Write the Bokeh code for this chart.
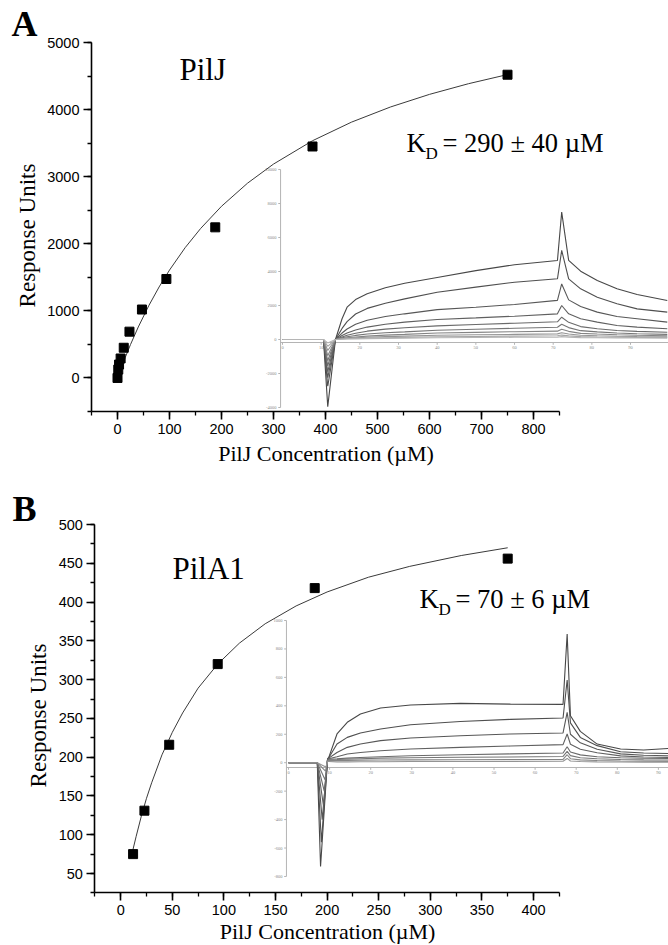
import math
from bokeh.plotting import figure
from bokeh.models import Range1d, SingleIntervalTicker, Label, ColumnDataSource
from bokeh.layouts import column
from bokeh.embed import file_html
from bokeh.resources import INLINE

# ---------------- Panel A data (PilJ) ----------------
conc_A = [0, 1.5, 3, 6, 12, 23, 47, 94, 188, 375, 750]
resp_A = [0, 125, 200, 290, 450, 690, 1020, 1475, 2245, 3450, 4520]
fit_conc_A = [3, 8, 15, 25, 40, 60, 80, 100, 130, 160, 200, 250, 300, 375, 450, 525, 600, 675, 750]
fit_resp_A = [64, 168, 308, 498, 760, 1075, 1356, 1608, 1941, 2229, 2559, 2903, 3188, 3536, 3813, 4039, 4227, 4386, 4522]
x_title = "PilJ Concentration (\u00b5M)"
y_title = "Response Units"

# inset A sensorgrams (time s, response RU)
time_A = [0, 10.6, 11.7, 13.7, 15.4, 16.7, 18.9, 21.9, 26.6, 31.6, 40, 50, 60, 71.1, 72.2, 74.0, 77.1, 81.4, 86.5, 91.7, 99.5]
sens_A = [
    [0, 0, -3950, 0, 1220, 1900, 2350, 2690, 3040, 3310, 3650, 4050, 4400, 4650, 7490, 4650, 4020, 3470, 2980, 2650, 2290],
    [0, 0, -2750, 0, 650, 1050, 1500, 1830, 2130, 2390, 2780, 3080, 3370, 3570, 5240, 3570, 2980, 2490, 2100, 1800, 1610],
    [0, 0, -2250, 0, 380, 620, 900, 1130, 1350, 1510, 1760, 1900, 2060, 2300, 3270, 2330, 1940, 1610, 1350, 1220, 1020],
    [0, 0, -1900, 0, 230, 380, 560, 730, 900, 1020, 1180, 1270, 1370, 1510, 2000, 1510, 1220, 1020, 820, 730, 630],
    [0, 0, -1550, 0, 150, 250, 370, 490, 610, 690, 800, 880, 960, 1040, 1310, 1010, 760, 630, 530, 480, 430],
    [0, 0, -1250, 0, 100, 160, 240, 320, 400, 450, 540, 600, 660, 720, 900, 700, 520, 450, 380, 340, 300],
    [0, 0, -950, 0, 60, 100, 150, 200, 260, 300, 380, 420, 460, 490, 600, 480, 360, 320, 280, 250, 220],
    [0, 0, -650, 0, 40, 65, 95, 130, 170, 200, 250, 280, 300, 330, 400, 320, 250, 220, 190, 175, 160],
    [0, 0, -400, 0, 25, 40, 60, 80, 105, 125, 160, 180, 200, 220, 260, 215, 170, 150, 135, 125, 120],
    [0, 0, -200, 0, 15, 25, 35, 50, 65, 80, 100, 115, 130, 140, 170, 140, 110, 100, 90, 85, 80],
]
inset_xticks_A = [0, 10, 20, 30, 40, 50, 60, 70, 80, 90]
inset_yticks_A = [-4000, -2000, 0, 2000, 4000, 6000, 8000, 10000]

# ---------------- Panel B data (PilA1) ----------------
conc_B = [12, 23, 47, 94, 188, 375]
resp_B = [75, 131, 216, 320, 418, 456]
fit_conc_B = [11, 15, 20, 25, 30, 40, 50, 60, 75, 94, 115, 140, 170, 200, 240, 280, 330, 375]
fit_resp_B = [76, 98, 124, 147, 167, 203, 232, 257, 289, 320, 347, 372, 395, 413, 432, 446, 460, 470]

time_B_pre = [0, 7.0]
dip_time_B = [7.8, 8.0, 8.2, 8.5, 8.7, 8.9, 9.0, 9.1]
time_B_post = [9.5, 9.8, 11.8, 14.3, 17.5, 22.4, 29.7, 41.8, 54.0, 66.8, 67.8, 68.6, 71.0, 75.1, 80.8, 86.4, 92.7]
sens_B = [
    [0, 0, -730, 25, 37, 202, 284, 342, 385, 406, 417, 412, 410, 905, 330, 220, 131, 96, 89, 101],
    [0, 0, -560, 25, 35, 131, 178, 209, 237, 267, 290, 305, 314, 582, 280, 178, 120, 77, 68, 65],
    [0, 0, -400, 22, 32, 72, 108, 131, 155, 174, 190, 202, 209, 354, 200, 140, 95, 62, 52, 49],
    [0, 0, -300, 20, 28, 42, 61, 72, 84, 96, 108, 117, 127, 202, 130, 95, 70, 48, 40, 37],
    [0, 0, -200, 18, 25, 28, 32, 37, 42, 49, 56, 62, 68, 112, 75, 55, 42, 35, 31, 30],
    [0, 0, -120, 15, 20, 22, 25, 28, 32, 35, 38, 40, 44, 79, 50, 35, 28, 23, 20, 19],
    [0, 0, -60, 12, 15, 15, 16, 18, 19, 20, 21, 22, 23, 56, 28, 20, 15, 12, 10, 9],
    [0, 0, -30, 8, 8, 6, 6, 7, 7, 8, 8, 9, 10, 30, 12, 8, 6, 5, 4, 4],
]
inset_xticks_B = [0, 10, 20, 30, 40, 50, 60, 70, 80, 90]
inset_yticks_B = [-800, -600, -400, -200, 0, 200, 400, 600, 800, 1000]

SERIF = "Liberation Serif"
SANS = "Liberation Sans"
GRAYS = ["#474747", "#4f4f4f", "#575757", "#606060", "#6a6a6a", "#757575", "#848484", "#949494", "#a5a5a5", "#b5b5b5"]
W = 668
PAGE_LEFT, PAGE_RIGHT = 0, W
BASE_SHIFT = 0.385   # Label anchor vs. alphabetic baseline, in em


class Mapper:
    """page-pixel -> data helpers for one panel."""
    def __init__(self, x0v, x0px, xs, y0v, y0px, ys, t0px, ts, v0px, vs, top, bottom):
        self.x0v, self.x0px, self.xs = x0v, x0px, xs
        self.y0v, self.y0px, self.ys = y0v, y0px, ys
        self.t0px, self.ts, self.v0px, self.vs = t0px, ts, v0px, vs
        self.top, self.bottom = top, bottom

    def x(self, px):
        return self.x0v + (px - self.x0px) / self.xs

    def y(self, py):
        return self.y0v - (py - self.y0px) / self.ys

    def t(self, px):
        return (px - self.t0px) / self.ts

    def v(self, py):
        return (self.v0px - py) / self.vs


def make_panel(m, xint, yint, xbounds, ybounds):
    p = figure(width=W, height=m.bottom - m.top,
               x_range=Range1d(m.x(PAGE_LEFT), m.x(PAGE_RIGHT)),
               y_range=Range1d(m.y(m.bottom), m.y(m.top)),
               output_backend="svg", toolbar_location=None,
               min_border_left=0, min_border_right=0, min_border_top=0, min_border_bottom=0)
    p.extra_x_ranges = {"ins": Range1d(m.t(PAGE_LEFT), m.t(PAGE_RIGHT))}
    p.extra_y_ranges = {"ins": Range1d(m.v(m.bottom), m.v(m.top))}
    xa, ya = p.xaxis[0], p.yaxis[0]
    for ax in (xa, ya):
        ax.axis_line_width = 1.6
        ax.axis_line_color = "black"
        ax.major_tick_line_width = 1.6
        ax.minor_tick_line_width = 1.3
        ax.major_tick_out = 8
        ax.major_tick_in = 0
        ax.minor_tick_out = 4
        ax.minor_tick_in = 0
        ax.major_label_text_font = SANS
        ax.major_label_text_font_size = "14.5px"
        ax.major_label_text_color = "black"
        ax.major_label_standoff = 4
    xa.ticker = SingleIntervalTicker(interval=xint, num_minor_ticks=2)
    ya.ticker = SingleIntervalTicker(interval=yint, num_minor_ticks=2)
    xa.bounds = xbounds
    ya.bounds = ybounds
    xa.fixed_location = ybounds[0]
    ya.fixed_location = xbounds[0]
    p.xgrid.visible = False
    p.ygrid.visible = False
    p.outline_line_color = None
    p.background_fill_color = "white"
    p.border_fill_color = "white"
    return p


def add_inset(p, m, xs_list, ys_list, xticks, yticks, axis_px, ylab_px):
    src = ColumnDataSource(dict(xs=xs_list, ys=ys_list, c=GRAYS[:len(xs_list)]))
    kw = dict(line_color="#b4b4b4", line_width=1, x_range_name="ins", y_range_name="ins")
    ax_t = xticks[0] - 0.5
    ax_v = m.v(axis_px)
    tl_t = 2.3 / m.ts
    tl_v = 2.3 / m.vs
    p.segment(x0=[ax_t], y0=[yticks[0]], x1=[ax_t], y1=[yticks[-1]], **kw)
    p.segment(x0=[ax_t], y0=[ax_v], x1=[m.t(PAGE_RIGHT)], y1=[ax_v], **kw)
    p.segment(x0=xticks, y0=[ax_v] * len(xticks), x1=xticks, y1=[ax_v - tl_v] * len(xticks), **kw)
    p.segment(x0=[ax_t] * len(yticks), y0=yticks, x1=[ax_t - tl_t] * len(yticks), y1=yticks, **kw)
    p.text(x=xticks, y=[m.v(axis_px + 3)] * len(xticks), text=[str(v) for v in xticks],
           text_font=SANS, text_font_size="4.5px", text_color="#8a8a8a", text_align="center",
           text_baseline="top", x_range_name="ins", y_range_name="ins")
    p.text(x=[m.t(ylab_px)] * len(yticks), y=yticks, text=[str(v) for v in yticks],
           text_font=SANS, text_font_size="4.5px", text_color="#8a8a8a", text_align="right",
           text_baseline="middle", x_range_name="ins", y_range_name="ins")
    p.multi_line(xs="xs", ys="ys", line_color="c", line_width=1.1, source=src,
                 x_range_name="ins", y_range_name="ins")


def put(p, m, px, py, txt, size, bold=False, align="left", vertical=False):
    """Place text so that its alphabetic baseline sits at page pixel (px, py)."""
    shift = BASE_SHIFT * size
    if vertical:
        ax, ay, ang = px - shift, py, math.pi / 2
    else:
        ax, ay, ang = px, py - shift, 0.0
    p.add_layout(Label(x=m.x(ax), y=m.y(ay), text=txt, text_font=SERIF, text_font_size=f"{size}px",
                       text_font_style="bold" if bold else "normal", text_color="black",
                       text_align=align, text_baseline="alphabetic", angle=ang))


# ---------------- Figure A ----------------
mA = Mapper(-50, 91, 0.52, 5000, 42, 0.067091, 282, 3.867, 339, 0.017, top=0, bottom=470)
pA = make_panel(mA, 100, 1000, (-50, 850), (-500, 5000))
add_inset(pA, mA, [time_A] * len(sens_A), sens_A, inset_xticks_A, inset_yticks_A,
          axis_px=342, ylab_px=276)
pA.line(fit_conc_A, fit_resp_A, line_color="#3a3a3a", line_width=1)
pA.scatter(conc_A, resp_A, marker="square", size=9, color="black")

put(pA, mA, 11, 37, "A", 36, bold=True)
put(pA, mA, 179, 81, "PilJ", 31)
put(pA, mA, 406, 153, "K", 27)
put(pA, mA, 425, 160, "D", 17)
put(pA, mA, 442, 153, "= 290 \u00b1 40 \u00b5M", 26.5)
put(pA, mA, 325.5, 461, x_title, 22, align="center")
put(pA, mA, 36, 235, y_title, 23, align="center", vertical=True)

# ---------------- Figure B ----------------
mB = Mapper(0, 120.2, 1.032, 500, 524, 0.77556, 288, 4.11, 762.2, 0.1422, top=470, bottom=945)
pB = make_panel(mB, 50, 50, (-25, 425), (25, 500))
xs_B = [time_B_pre + [d] + time_B_post for d in dip_time_B]
add_inset(pB, mB, xs_B, sens_B, inset_xticks_B, inset_yticks_B, axis_px=767, ylab_px=282)
pB.line(fit_conc_B, fit_resp_B, line_color="#3a3a3a", line_width=1)
pB.scatter(conc_B, resp_B, marker="square", size=9, color="black")

put(pB, mB, 12, 522, "B", 36, bold=True)
put(pB, mB, 172, 580, "PilA1", 31)
put(pB, mB, 419, 609, "K", 27)
put(pB, mB, 438, 616, "D", 17)
put(pB, mB, 455, 609, "= 70 \u00b1 6 \u00b5M", 26.5)
put(pB, mB, 327, 939, x_title, 22, align="center")
put(pB, mB, 47, 715, y_title, 23, align="center", vertical=True)

layout = column(pA, pB, spacing=0)
open("out.html", "w").write(file_html(layout, INLINE))
